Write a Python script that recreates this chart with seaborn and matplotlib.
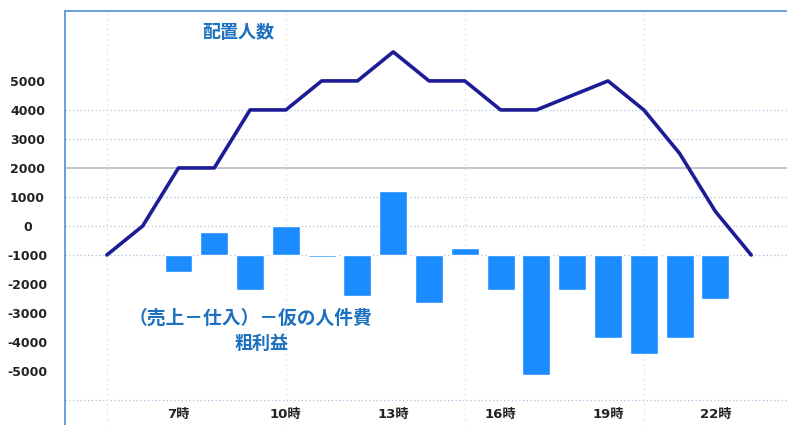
import numpy as np
import pandas as pd
import matplotlib
matplotlib.use("Agg")
import matplotlib.pyplot as plt
import seaborn as sns

# data
hours = list(range(5, 24))
staff = [-1000, 0, 2000, 2000, 4000, 4000, 5000, 5000, 6000, 5000,
         5000, 4000, 4000, 4500, 5000, 4000, 2500, 500, -1000]

bar_hours = list(range(7, 23))
profit = [-1600, -200, -2200, 0, -1070, -2400, 1200, -2650,
          -750, -2200, -5150, -2200, -3850, -4400, -3850, -2500]
base = -1000

yticks = list(range(-5000, 6000, 1000))
xtick_hours = [7, 10, 13, 16, 19, 22]
xtick_labels = [f"{h}時" for h in xtick_hours]

sns.set_style("white")
plt.rcParams['font.family'] = ['DejaVu Sans', 'Noto Sans CJK JP']

fig = plt.figure(figsize=(7.87, 4.25), dpi=100)
ax = fig.add_axes([65 / 787, 0.0, 722 / 787, 414 / 425])

# grid
for v in [4000, 3000, 1000, 0, -1000, -6000]:
    ax.axhline(v, color="#a8c2e2", lw=0.9, ls=(0, (1, 2)), zorder=0)
ax.axhline(2000, color="#b4b4c4", lw=1.1, zorder=0)
for h in [5, 10, 15, 20]:
    ax.axvline(h, color="#dcdcdc", lw=0.9, ls=(0, (1, 3)), zorder=0)

df_bar = pd.DataFrame({"hour": bar_hours, "profit": profit})
df_bar["height"] = df_bar["profit"] - base
sns.barplot(data=df_bar, x="hour", y="height", bottom=base, native_scale=True,
            color="#1a8cff", saturation=1, width=0.78, ax=ax, zorder=2)

df_line = pd.DataFrame({"hour": hours, "staff": staff})
sns.lineplot(data=df_line, x="hour", y="staff", color="#1c1c96", lw=2.6, ax=ax, zorder=3)

ax.set_xlim(3.83, 24.0)
ax.set_ylim(-6860, 7410)
ax.set_xlabel("")
ax.set_ylabel("")

ax.set_yticks(yticks)
ax.set_yticklabels([str(v) for v in yticks], fontsize=9, fontweight="bold", color="#222222")
for t in ax.get_yticklabels():
    t.set_horizontalalignment("center")
ax.tick_params(axis="y", length=0, pad=27)

ax.set_xticks(xtick_hours)
ax.set_xticklabels(xtick_labels, fontsize=9.5, fontweight="bold", color="#222222")
ax.tick_params(axis="x", length=0, pad=-12)

for s in ["right", "bottom"]:
    ax.spines[s].set_visible(False)
for s in ["left", "top"]:
    ax.spines[s].set_color("#5a9ad8")
    ax.spines[s].set_linewidth(1.3)

txt_color = "#1c70c0"
ax.text(0.24, 0.949, "配置人数", transform=ax.transAxes, ha="center", va="center",
        fontsize=13, fontweight="bold", color=txt_color, family="Noto Sans CJK JP")
ax.text(0.257, 0.259, "（売上－仕入）－仮の人件費", transform=ax.transAxes, ha="center",
        va="center", fontsize=13.5, fontweight="bold", color=txt_color, family="Noto Sans CJK JP")
ax.text(0.272, 0.198, "粗利益", transform=ax.transAxes, ha="center", va="center",
        fontsize=13, fontweight="bold", color=txt_color, family="Noto Sans CJK JP")

fig.savefig("out.png", dpi=100, facecolor="white")
